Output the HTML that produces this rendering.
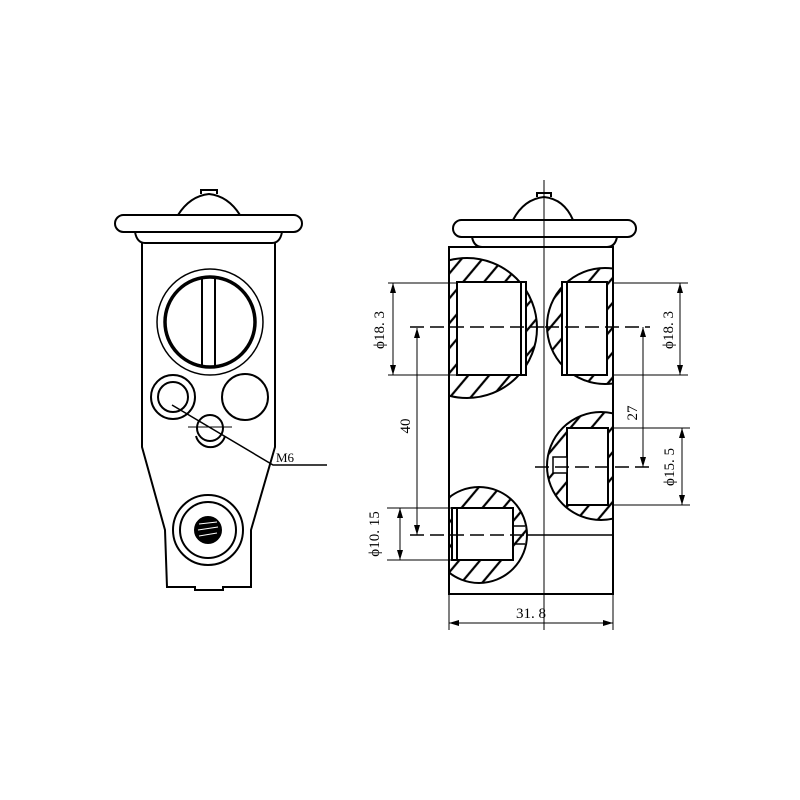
<!DOCTYPE html>
<html><head><style>body{margin:0;background:#fff}svg{display:block}</style></head><body>
<svg width="800" height="800" viewBox="0 0 800 800" xmlns="http://www.w3.org/2000/svg" font-family="Liberation Serif, serif">
<defs>
<pattern id="h" width="16" height="16" patternUnits="userSpaceOnUse" patternTransform="rotate(40)">
<line x1="8" y1="0" x2="8" y2="16" stroke="#000" stroke-width="2.2"/>
</pattern>
<clipPath id="bc"><rect x="449" y="247" width="164" height="347"/></clipPath>
</defs>
<g fill="none" stroke="#000" stroke-width="2">
<!-- LEFT VIEW -->
<path d="M201,194 L201,190 L217,190 L217,194 M178,215 Q190,196 209,194 Q228,196 240,215"/>
<rect x="115" y="215" width="187" height="17" rx="8.5"/>
<path d="M135,232 Q137,243 145,243 L272,243 Q280,243 282,232"/>
<path d="M142,243 L142,447 L165,530 L167,587 L195,587 L195,590 L223,590 L223,587 L251,587 L251,530 L275,447 L275,243"/>
<circle cx="210" cy="322" r="53" stroke-width="1.5"/>
<circle cx="210" cy="322" r="45" stroke-width="3.5"/>
<line x1="202" y1="278" x2="202" y2="366"/>
<line x1="215" y1="278" x2="215" y2="366"/>
<circle cx="173" cy="397" r="22"/>
<circle cx="173" cy="397" r="15"/>
<circle cx="245" cy="397" r="23"/>
<circle cx="210" cy="428" r="13"/>
<path d="M196,436 A15,15 0 0 0 225,436" />
<line x1="188" y1="427" x2="232" y2="427" stroke-width="1"/>
<path d="M172,405 L273,465 L327,465" stroke-width="1.5"/>
<circle cx="208" cy="530" r="35"/>
<circle cx="208" cy="530" r="28"/>
<circle cx="208" cy="530" r="13" fill="#000"/>
<path d="M199,524 L217,522 M198,530 L218,527 M199,536 L217,533" stroke="#fff" stroke-width="1"/>
</g>
<text x="276" y="462" font-size="13">M6</text>

<!-- RIGHT VIEW -->
<g fill="none" stroke="#000" stroke-width="2">
<path d="M537,197 L537,193 L551,193 L551,197 M513,220 Q524,199 544,197 Q564,199 573,220"/>
<rect x="453" y="220" width="183" height="17" rx="8.5"/>
<path d="M472,237 Q474,247 482,247 L607,247 Q615,247 617,237"/>
<g clip-path="url(#bc)">
<circle cx="467" cy="328" r="70" fill="url(#h)"/>
<circle cx="605" cy="326" r="58" fill="url(#h)"/>
<circle cx="601" cy="466" r="54" fill="url(#h)"/>
<circle cx="479" cy="535" r="48" fill="url(#h)"/>
</g>
<rect x="449" y="247" width="164" height="347"/>
<rect x="457" y="282" width="69" height="93" fill="#fff"/>
<line x1="521" y1="282" x2="521" y2="375"/>
<rect x="562" y="282" width="45" height="93" fill="#fff"/>
<line x1="567" y1="282" x2="567" y2="375"/>
<rect x="567" y="428" width="41" height="77" fill="#fff"/>
<rect x="553" y="457" width="14" height="16" fill="#fff" stroke-width="1.5"/>
<rect x="452" y="508" width="61" height="52" fill="#fff"/>
<line x1="457" y1="508" x2="457" y2="560"/>
<line x1="513" y1="526" x2="525" y2="526" stroke-width="1.5"/>
<line x1="513" y1="544" x2="525" y2="544" stroke-width="1.5"/>
<line x1="527" y1="535" x2="613" y2="535" stroke-width="1.5"/>
<line x1="544" y1="180" x2="544" y2="630" stroke-width="1" />
<g stroke-width="1.5" stroke-dasharray="14,6">
<line x1="410" y1="327" x2="545" y2="327"/>
<line x1="545" y1="327" x2="650" y2="327"/>
<line x1="535" y1="467" x2="650" y2="467"/>
<line x1="410" y1="535" x2="527" y2="535"/>
</g>
</g>
<g stroke="#000" stroke-width="1" fill="none">
<line x1="388" y1="283" x2="457" y2="283"/>
<line x1="388" y1="375" x2="457" y2="375"/>
<line x1="393" y1="283" x2="393" y2="375"/>
<line x1="417" y1="328" x2="417" y2="535"/>
<line x1="387" y1="508" x2="452" y2="508"/>
<line x1="387" y1="560" x2="452" y2="560"/>
<line x1="400" y1="508" x2="400" y2="560"/>
<line x1="613" y1="283" x2="688" y2="283"/>
<line x1="613" y1="375" x2="688" y2="375"/>
<line x1="680" y1="283" x2="680" y2="375"/>
<line x1="643" y1="327" x2="643" y2="467"/>
<line x1="613" y1="428" x2="690" y2="428"/>
<line x1="613" y1="505" x2="690" y2="505"/>
<line x1="682" y1="428" x2="682" y2="505"/>
<line x1="449" y1="594" x2="449" y2="630"/>
<line x1="613" y1="594" x2="613" y2="630"/>
<line x1="449" y1="623" x2="613" y2="623"/>
</g>
<g fill="#000">
<path d="M393,283 l-3,10 h6z M393,375 l-3,-10 h6z"/>
<path d="M417,328 l-3,10 h6z M417,535 l-3,-10 h6z"/>
<path d="M400,508 l-3,10 h6z M400,560 l-3,-10 h6z"/>
<path d="M680,283 l-3,10 h6z M680,375 l-3,-10 h6z"/>
<path d="M643,327 l-3,10 h6z M643,467 l-3,-10 h6z"/>
<path d="M682,428 l-3,10 h6z M682,505 l-3,-10 h6z"/>
<path d="M449,623 l10,-3 v6z M613,623 l-10,-3 v6z"/>
</g>
<g font-size="15" fill="#000" text-anchor="middle">
<text transform="translate(384,330) rotate(-90)">ϕ18. 3</text>
<text transform="translate(410,426) rotate(-90)">40</text>
<text transform="translate(379,534) rotate(-90)">ϕ10. 15</text>
<text transform="translate(673,330) rotate(-90)">ϕ18. 3</text>
<text transform="translate(637,413) rotate(-90)">27</text>
<text transform="translate(674,467) rotate(-90)">ϕ15. 5</text>
<text x="531" y="618">31. 8</text>
</g>
</svg>
</body></html>
